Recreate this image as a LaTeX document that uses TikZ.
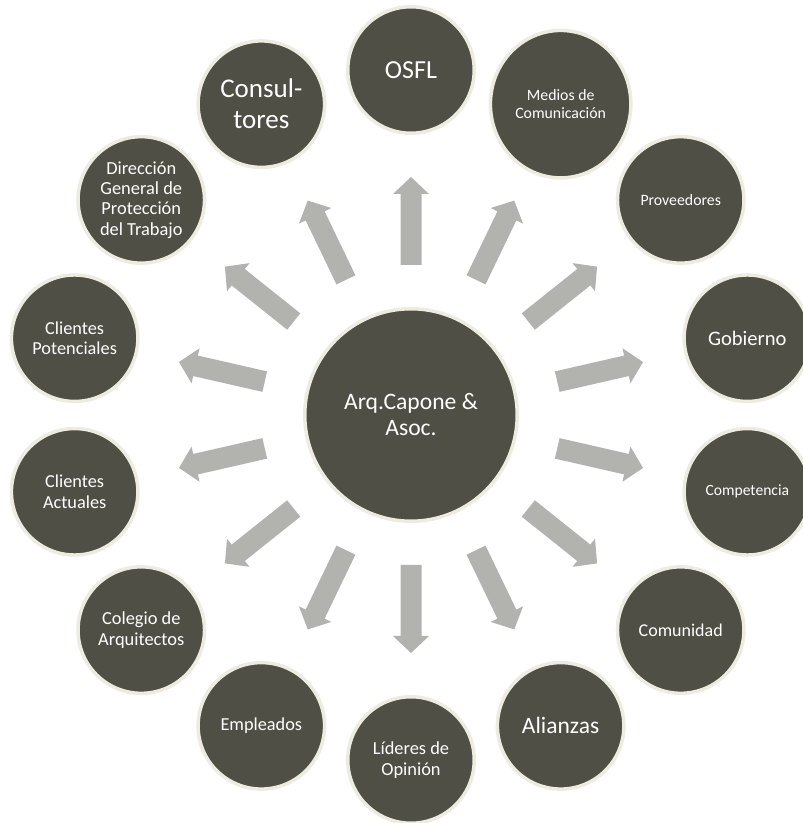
\documentclass[tikz,border=0pt]{standalone}
\usepackage{fontspec}
\setmainfont{Carlito}
\usetikzlibrary{calc,shapes.geometric}

\definecolor{discfill}{RGB}{80,79,69}
\definecolor{discrim}{RGB}{238,236,225}
\definecolor{arrowgrey}{RGB}{178,179,175}

\tikzset{
  disc/.style={circle, fill=discfill, draw=discrim, line width=3.5pt,
    text=white, align=center, inner sep=0pt},
  hub/.style={disc, minimum size=212.5pt},
  party/.style={disc, minimum size=126.5pt},
  wideparty/.style={disc, ellipse, minimum width=140.5pt, minimum height=147.5pt},
  fs/.style 2 args={font=\fontsize{#1}{#2}\selectfont},
  blockfill/.style={fill=arrowgrey},
}

% block arrow pointing from node #1 towards node #2:
% tail 150pt from the centre of #1, head base at 221pt, tip at 238pt
\newcommand\blockarrow[2]{%
  \fill[blockfill]
    ($(#1)!150pt!(#2)!10.5pt!90:(#2)$) --
    ($(#1)!221pt!(#2)!10.5pt!90:(#2)$) --
    ($(#1)!221pt!(#2)!18pt!90:(#2)$) --
    ($(#1)!238pt!(#2)$) --
    ($(#1)!221pt!(#2)!18pt!-90:(#2)$) --
    ($(#1)!221pt!(#2)!10.5pt!-90:(#2)$) --
    ($(#1)!150pt!(#2)!10.5pt!-90:(#2)$) -- cycle;}

\begin{document}
\begin{tikzpicture}[x=1pt,y=1pt]
\useasboundingbox (0,0) rectangle (803,823);
\clip (0,0) rectangle (803,823);

\node[hub, fs={23.6}{26}] (hub) at (411,408) {Arq.Capone \&\\Asoc.};

\node[party, fs={26}{29}]         (osfl)   at ($(hub)+(90:345)$)      {OSFL};
\node[wideparty, fs={15.8}{17.4}] (medios) at ($(hub)+(64.29:345)$)   {Medios de\\Comunicación};
\node[party, fs={15.8}{17.4}]     (prov)   at ($(hub)+(38.57:345)$)   {Proveedores};
\node[party, fs={20.6}{23}]       (gob)    at ($(hub)+(12.86:345)$)   {Gobierno};
\node[party, fs={15.6}{17.2}]     (comp)   at ($(hub)+(-12.86:345)$)  {Competencia};
\node[party, fs={18}{20}]         (comu)   at ($(hub)+(-38.57:345)$)  {Comunidad};
\node[party, fs={23.5}{26}]       (alian)  at ($(hub)+(-64.29:345)$)  {Alianzas};
\node[party, fs={18.4}{20.2}]     (lider)  at ($(hub)+(-90:345)$)     {Líderes de\\Opinión};
\node[party, fs={18.3}{20.2}]     (emple)  at ($(hub)+(-115.71:345)$) {Empleados};
\node[party, fs={18.4}{20.2}]     (coleg)  at ($(hub)+(-141.43:345)$) {Colegio de\\Arquitectos};
\node[party, fs={18.3}{20.2}]     (actual) at ($(hub)+(-167.14:345)$) {Clientes\\Actuales};
\node[party, fs={18.3}{20.2}]     (poten)  at ($(hub)+(167.14:345)$)  {Clientes\\Potenciales};
\node[party, fs={18.4}{20.4}]     (direc)  at ($(hub)+(141.43:345)$)  {Dirección\\General de\\Protección\\del Trabajo};
\node[party, fs={27}{31}]         (consul) at ($(hub)+(115.71:345)$)  {Consul-\\tores};

\foreach \target in {osfl,medios,prov,gob,comp,comu,alian,lider,emple,coleg,actual,poten,direc,consul}
  {\blockarrow{hub}{\target}}
\end{tikzpicture}
\end{document}
